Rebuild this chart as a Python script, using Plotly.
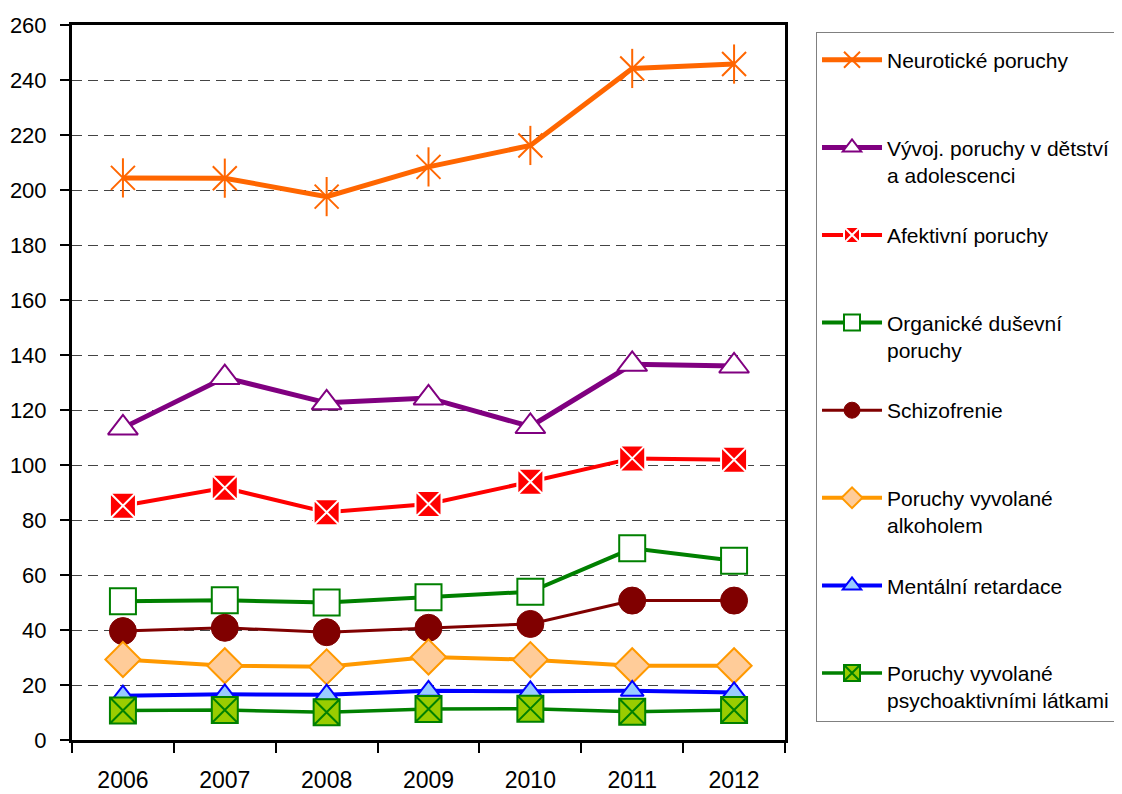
import plotly.graph_objects as go

years = ["2006", "2007", "2008", "2009", "2010", "2011", "2012"]

neuroticke = [204.4, 204.3, 197.6, 208.4, 216.2, 244.2, 245.8]
vyvojove = [113.5, 131.8, 122.6, 124.4, 114.0, 136.6, 136.0]
afektivni = [85.2, 91.7, 82.8, 85.8, 93.9, 102.4, 101.9]
organicke = [50.5, 50.8, 50.0, 51.9, 53.9, 69.7, 65.2]
schizofrenie = [39.6, 40.8, 39.2, 40.8, 42.2, 50.7, 50.7]
alkohol = [29.3, 27.0, 26.6, 30.2, 29.2, 27.0, 27.0]
mentalni = [16.1, 16.6, 16.5, 17.9, 17.7, 17.9, 17.3]
psychoakt = [10.7, 10.9, 10.1, 11.3, 11.4, 10.3, 10.9]

names = [
    "Neurotické poruchy<br> ",
    "Vývoj. poruchy v dětství<br>a adolescenci",
    "Afektivní poruchy<br> ",
    "Organické duševní<br>poruchy",
    "Schizofrenie<br> ",
    "Poruchy vyvolané<br>alkoholem",
    "Mentální retardace<br> ",
    "Poruchy vyvolané<br>psychoaktivními látkami",
]

FONT = "Liberation Sans, Arial, sans-serif"

fig = go.Figure()

series = [
    (neuroticke, dict(color="#FF6600", width=5),
     dict(symbol="x-thin-open", size=24, color="#FF6600", line=dict(color="#FF6600", width=2))),
    (vyvojove, dict(color="#800080", width=5),
     dict(symbol="triangle-up", size=26, color="white", line=dict(color="#800080", width=2))),
    (afektivni, dict(color="#FF0000", width=4),
     dict(symbol="square-x", size=26, color="#FF0000", line=dict(color="white", width=2))),
    (organicke, dict(color="#008000", width=4),
     dict(symbol="square", size=26, color="white", line=dict(color="#008000", width=2))),
    (schizofrenie, dict(color="#800000", width=3),
     dict(symbol="circle", size=27, color="#800000", line=dict(color="#800000", width=1))),
    (alkohol, dict(color="#FF9900", width=4),
     dict(symbol="diamond", size=27, color="#FFCC99", line=dict(color="#FF9900", width=2))),
    (mentalni, dict(color="#0000FF", width=4),
     dict(symbol="triangle-up", size=20, color="#99CCFF", line=dict(color="#0000FF", width=2))),
    (psychoakt, dict(color="#008000", width=3.5),
     dict(symbol="square-x", size=26, color="#99CC00", line=dict(color="#008000", width=2))),
]

for i, (vals, ln, mk) in enumerate(series):
    fig.add_trace(go.Scatter(
        x=years, y=vals, name=names[i], mode="lines+markers",
        line=ln, marker=mk, legendgroup=f"g{i}", showlegend=True,
    ))
    if i == 0:
        fig.add_trace(go.Scatter(
            x=years, y=vals, mode="markers", showlegend=False, legendgroup="g0",
            marker=dict(symbol="line-ns-open", size=28, color="#FF6600",
                        line=dict(color="#FF6600", width=2)),
            hoverinfo="skip",
        ))

fig.update_layout(
    width=1114, height=786,
    margin=dict(l=64, r=337, t=17, b=54, autoexpand=False),
    paper_bgcolor="white", plot_bgcolor="white",
    font=dict(family=FONT, size=21, color="black"),
    showlegend=True,
    legend=dict(
        x=1.0435, xanchor="left", y=0.99, yanchor="top",
        bgcolor="white", bordercolor="#808080", borderwidth=1,
        font=dict(family=FONT, size=21, color="black"),
        valign="top", itemwidth=60, tracegroupgap=30,
        traceorder="grouped",
        title=dict(text=" ", font=dict(size=5)),
    ),
)

fig.update_xaxes(
    type="category", range=[-0.5, 6.5], automargin=False,
    tickson="boundaries", ticks="outside", ticklen=10, tickwidth=2, tickcolor="black",
    showline=True, linecolor="black", linewidth=3, mirror=True, ticklabelstandoff=17,
    showgrid=False, tickfont=dict(family=FONT, size=23, color="black"),
)
fig.update_yaxes(
    range=[0, 260], dtick=20, tick0=0, automargin=False,
    ticks="outside", ticklen=9, tickwidth=2, tickcolor="black", ticklabelstandoff=9,
    showline=True, linecolor="black", linewidth=3, mirror=True,
    showgrid=True, gridcolor="#444444", gridwidth=1, griddash="10px,6px",
    zeroline=False, tickfont=dict(family=FONT, size=22, color="black"),
)

fig.write_html("out.html")
